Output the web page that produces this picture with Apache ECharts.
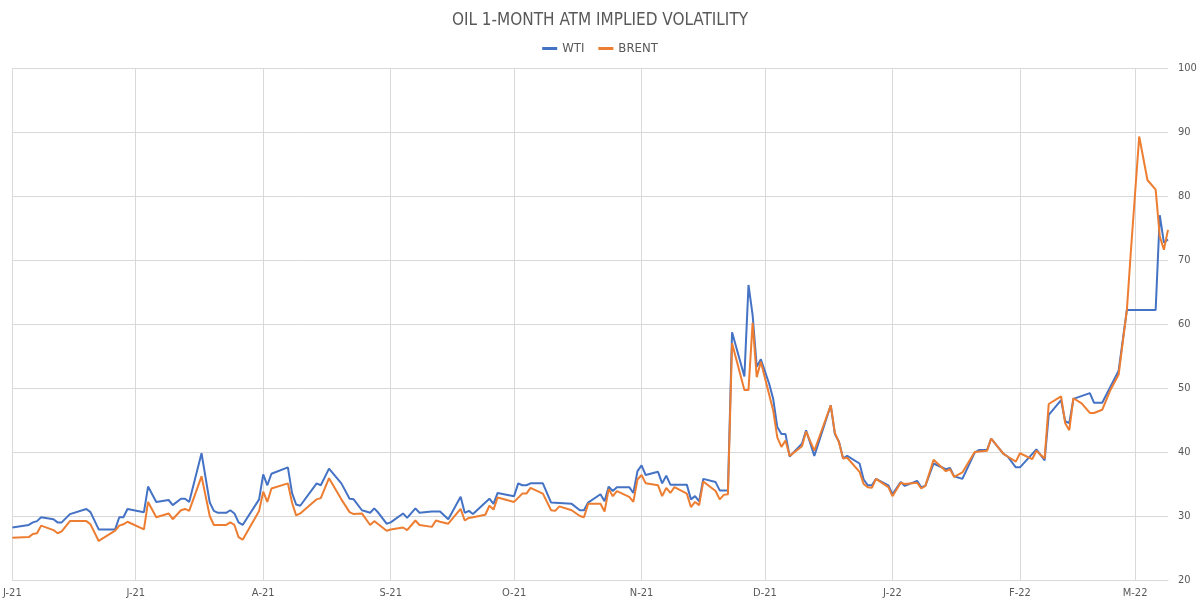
<!DOCTYPE html>
<html>
<head>
<meta charset="utf-8">
<script src="https://cdn.jsdelivr.net/npm/echarts@6/dist/echarts.min.js"></script>
<style>
  html, body { margin: 0; padding: 0; background: #fff; }
  #chart { width: 1200px; height: 606px; }
</style>
</head>
<body>
<div id="chart"></div>
<script>
var dates = [
    '2021-06-01', '2021-06-05', '2021-06-06', '2021-06-07', '2021-06-08', '2021-06-11', '2021-06-12', '2021-06-13',
    '2021-06-15', '2021-06-19', '2021-06-20', '2021-06-22', '2021-06-26', '2021-06-27', '2021-06-28', '2021-06-29',
    '2021-07-03', '2021-07-04', '2021-07-06', '2021-07-09', '2021-07-10', '2021-07-12', '2021-07-13', '2021-07-14',
    '2021-07-17', '2021-07-19', '2021-07-20', '2021-07-21', '2021-07-23', '2021-07-24', '2021-07-25', '2021-07-26',
    '2021-07-27', '2021-07-31', '2021-08-01', '2021-08-02', '2021-08-03', '2021-08-07', '2021-08-08', '2021-08-09',
    '2021-08-10', '2021-08-14', '2021-08-15', '2021-08-17', '2021-08-20', '2021-08-22', '2021-08-23', '2021-08-25',
    '2021-08-27', '2021-08-28', '2021-08-29', '2021-08-31', '2021-09-01', '2021-09-04', '2021-09-05', '2021-09-07',
    '2021-09-08', '2021-09-11', '2021-09-12', '2021-09-13', '2021-09-15', '2021-09-18', '2021-09-19', '2021-09-20',
    '2021-09-21', '2021-09-24', '2021-09-25', '2021-09-26', '2021-09-27', '2021-10-01', '2021-10-02', '2021-10-03',
    '2021-10-04', '2021-10-05', '2021-10-08', '2021-10-10', '2021-10-11', '2021-10-12', '2021-10-15', '2021-10-17',
    '2021-10-18', '2021-10-19', '2021-10-22', '2021-10-23', '2021-10-24', '2021-10-25', '2021-10-26', '2021-10-29',
    '2021-10-30', '2021-10-31', '2021-11-01', '2021-11-02', '2021-11-05', '2021-11-06', '2021-11-07', '2021-11-08',
    '2021-11-09', '2021-11-12', '2021-11-13', '2021-11-14', '2021-11-15', '2021-11-16', '2021-11-19', '2021-11-20',
    '2021-11-21', '2021-11-22', '2021-11-23', '2021-11-26', '2021-11-27', '2021-11-28', '2021-11-29', '2021-11-30',
    '2021-12-02', '2021-12-03', '2021-12-04', '2021-12-05', '2021-12-06', '2021-12-07', '2021-12-10', '2021-12-11',
    '2021-12-13', '2021-12-17', '2021-12-18', '2021-12-19', '2021-12-20', '2021-12-21', '2021-12-24', '2021-12-25',
    '2021-12-26', '2021-12-27', '2021-12-28', '2021-12-31', '2022-01-01', '2022-01-03', '2022-01-04', '2022-01-07',
    '2022-01-08', '2022-01-09', '2022-01-11', '2022-01-14', '2022-01-15', '2022-01-16', '2022-01-18', '2022-01-21',
    '2022-01-22', '2022-01-24', '2022-01-25', '2022-01-28', '2022-01-29', '2022-01-31', '2022-02-01', '2022-02-04',
    '2022-02-05', '2022-02-07', '2022-02-08', '2022-02-11', '2022-02-12', '2022-02-13', '2022-02-14', '2022-02-16',
    '2022-02-18', '2022-02-19', '2022-02-21', '2022-02-23', '2022-02-25', '2022-02-27', '2022-02-28', '2022-03-02',
    '2022-03-04', '2022-03-06', '2022-03-07', '2022-03-08', '2022-03-09'
];

var wti = [
    28.2, 28.6, 29.0, 29.2, 29.8, 29.5, 29.0, 29.0,
    30.3, 31.1, 30.6, 27.9, 27.9, 29.8, 29.8, 31.1,
    30.6, 34.6, 32.2, 32.5, 31.7, 32.7, 32.7, 32.2,
    39.8, 32.1, 30.8, 30.5, 30.5, 30.9, 30.4, 29.0,
    28.6, 32.6, 36.5, 34.8, 36.6, 37.6, 33.6, 31.8,
    31.6, 35.1, 34.8, 37.4, 35.1, 32.7, 32.6, 30.9,
    30.5, 31.2, 30.5, 28.8, 29.0, 30.4, 29.7, 31.2,
    30.5, 30.7, 30.7, 30.7, 29.5, 33.0, 30.5, 30.8,
    30.3, null, 32.7, 31.9, 33.6, 33.1, 35.1, 34.8,
    34.8, 35.1, 35.1, 32.1, null, null, 31.9, 30.9,
    30.9, 32.1, 33.4, 32.3, 34.6, 33.9, 34.5, 34.5,
    33.6, 37.0, 37.9, 36.4, 36.9, 35.1, 36.3, 34.9,
    null, 34.9, 32.6, 33.1, 32.3, 35.8, 35.3, 34.0,
    null, 34.0, 58.7, 51.8, 66.1, 61.4, 53.3, 54.5,
    50.7, 48.3, 43.9, 42.8, 42.8, 39.3, 41.3, 43.4,
    39.4, 47.3, 42.8, 41.6, 39.0, 39.4, 38.2, 35.7,
    34.8, 34.8, 35.8, 34.8, 33.4, 35.3, 34.7, 35.5,
    34.5, 34.7, 38.2, 37.3, 37.5, 36.2, 35.8, 39.9,
    40.3, 40.3, 42.1, 39.7, 39.3, 37.6, 37.6, null,
    40.4, 38.7, 45.8, 48.1, 44.8, 44.5, 48.3, null,
    49.2, 47.7, 47.7, null, 52.7, 62.2, null, null,
    null, 62.2, 77.0, 72.7, 73.2
];

var brent = [
    26.6, 26.7, 27.2, 27.3, 28.5, 27.8, 27.3, 27.6,
    29.2, 29.2, 28.7, 26.1, 27.7, 28.5, 28.7, 29.1,
    27.9, 32.2, 29.8, 30.4, 29.5, 30.9, 31.1, 30.8,
    36.2, 30.0, 28.6, 28.6, 28.6, 29.0, 28.6, 26.7,
    26.3, 30.8, 33.8, 32.2, 34.3, 35.1, 32.1, 30.1,
    30.4, 32.6, 32.8, 35.9, 32.6, 30.6, 30.3, 30.4,
    28.6, 29.2, 28.7, 27.7, 27.9, 28.2, 27.8, 29.3,
    28.6, 28.3, 29.3, 29.1, 28.8, 31.1, 29.3, 29.7,
    29.8, 30.2, 31.6, 31.0, 32.9, 32.2, null, 33.5,
    33.5, 34.4, 33.5, 30.9, 30.8, 31.5, 30.9, 30.0,
    29.8, 31.9, 31.9, 30.7, 34.2, 33.1, 33.9, 33.0,
    32.2, 35.7, 36.4, 35.1, 34.8, 33.1, 34.4, 33.6,
    34.5, 33.5, 31.4, 32.2, 31.7, 35.4, 33.9, 32.6,
    33.3, 33.4, 57.0, 49.7, 49.7, 60.2, 51.7, 54.1,
    null, 46.5, 42.3, 40.8, 41.8, 39.4, 40.9, 43.2,
    40.2, 47.3, 43.0, 41.5, 39.0, 39.1, 36.9, 35.0,
    34.5, 34.4, 35.8, 34.5, 33.1, 35.2, 35.0, 35.2,
    34.3, 34.7, 38.8, 37.0, 37.3, 36.1, 36.8, 40.0,
    null, 40.2, 42.1, 39.7, 39.3, 38.5, 39.8, 38.9,
    40.2, 39.0, 47.5, 48.7, 44.5, 43.4, 48.4, 47.6,
    46.1, 46.1, 46.6, 49.7, 52.1, 62.2, 71.6, 89.3,
    82.5, 81.0, 73.7, 71.6, 74.7
];

var axisStart = '2021-06-01';
var axisEnd = '2022-03-09';
var monthLetters = ['J', 'F', 'M', 'A', 'M', 'J', 'J', 'A', 'S', 'O', 'N', 'D'];

// every calendar day is a category, so month gridlines fall on the 1st
var days = [];
var t = Date.parse(axisStart + 'T00:00:00Z');
var tEnd = Date.parse(axisEnd + 'T00:00:00Z');
while (t <= tEnd) {
    days.push(new Date(t).toISOString().slice(0, 10));
    t += 86400000;
}
var dayIndex = {};
days.forEach(function(d, i) { dayIndex[d] = i; });

function toSeries(values) {
    var out = days.map(function() { return null; });
    dates.forEach(function(d, i) {
        if (values[i] != null) out[dayIndex[d]] = values[i];
    });
    return out;
}

function isMonthStart(index, value) {
    return value.slice(8, 10) === '01';
}

var font = "'Liberation Sans Narrow', 'DejaVu Sans Condensed', Roboto, sans-serif";
var grey = '#595959';

var chart = echarts.init(document.getElementById('chart'));
chart.setOption({
    animation: false,
    backgroundColor: '#fff',
    textStyle: { fontFamily: font },
    title: {
        text: 'OIL 1-MONTH ATM IMPLIED VOLATILITY',
        left: 'center',
        top: 7,
        textStyle: { fontSize: 17, fontWeight: 'normal', color: grey, fontFamily: font }
    },
    legend: {
        top: 37,
        left: 'center',
        icon: 'rect',
        itemWidth: 15,
        itemHeight: 3,
        itemGap: 14,
        textStyle: { fontSize: 13, color: grey, fontFamily: font },
        data: ['WTI', 'BRENT']
    },
    grid: { left: 12, right: 32, top: 68, bottom: 26, containLabel: false },
    xAxis: {
        type: 'category',
        data: days,
        boundaryGap: false,
        axisLine: { lineStyle: { color: '#d9d9d9' } },
        axisTick: { show: false },
        axisLabel: {
            interval: isMonthStart,
            hideOverlap: false,
            color: grey,
            fontSize: 11,
            margin: 8,
            fontFamily: font,
            formatter: function(v) {
                return monthLetters[parseInt(v.slice(5, 7), 10) - 1] + '-' + v.slice(2, 4);
            }
        },
        splitLine: { show: true, interval: isMonthStart, lineStyle: { color: '#d9d9d9' } }
    },
    yAxis: {
        type: 'value',
        position: 'right',
        min: 20,
        max: 100,
        interval: 10,
        axisLine: { show: false },
        axisTick: { show: false },
        axisLabel: { color: grey, fontSize: 11, margin: 10, fontFamily: font },
        splitLine: { lineStyle: { color: '#d9d9d9' } }
    },
    series: [{
        name: 'WTI',
        type: 'line',
        data: toSeries(wti),
        connectNulls: true,
        showSymbol: false,
        symbol: 'none',
        color: '#4472C4',
        lineStyle: { width: 2, color: '#4472C4' }
    }, {
        name: 'BRENT',
        type: 'line',
        data: toSeries(brent),
        connectNulls: true,
        showSymbol: false,
        symbol: 'none',
        color: '#ED7D31',
        lineStyle: { width: 2, color: '#ED7D31' }
    }]
});
</script>
</body>
</html>
